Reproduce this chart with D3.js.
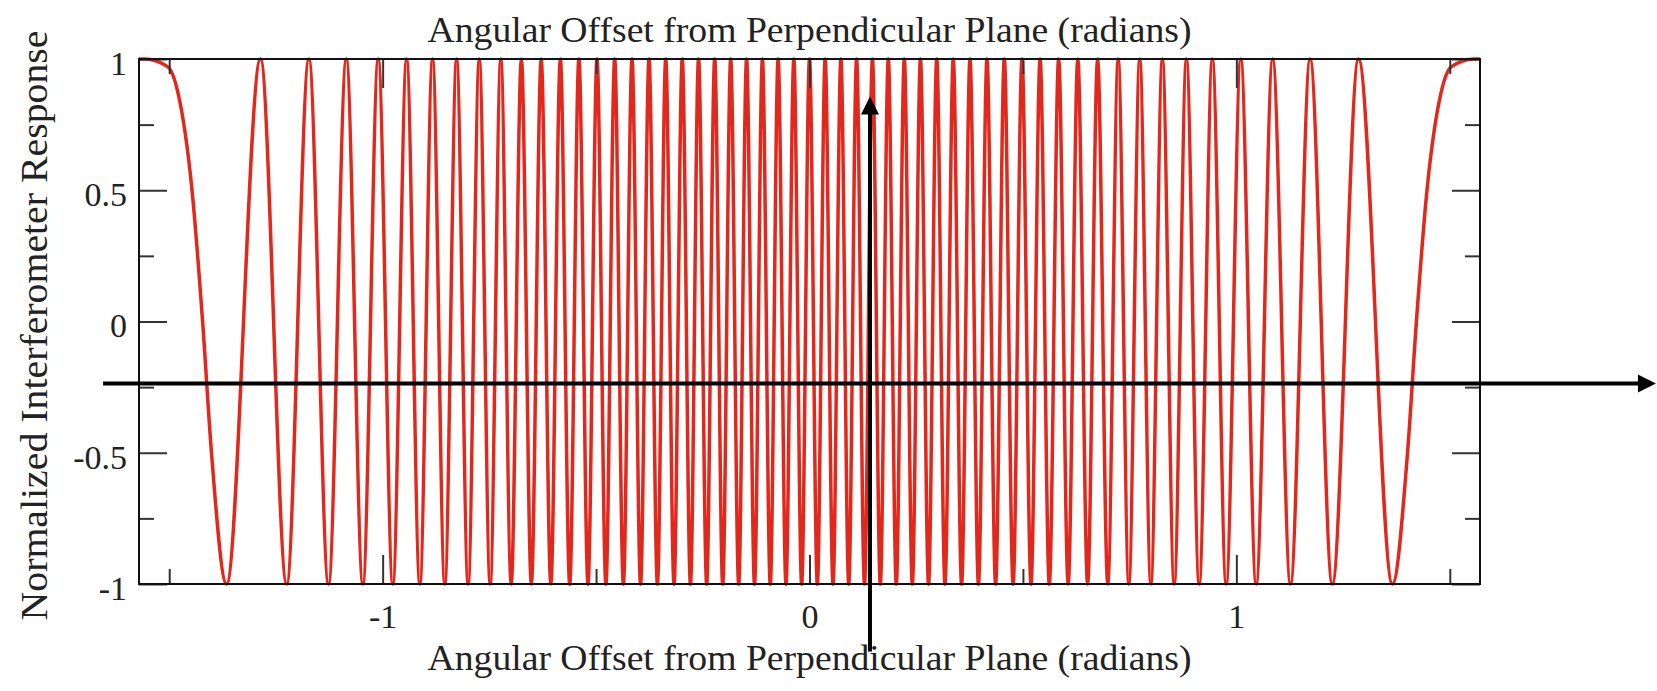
<!DOCTYPE html>
<html>
<head>
<meta charset="utf-8">
<script src="https://cdn.jsdelivr.net/npm/d3@7"></script>
<style>
  html, body { margin: 0; padding: 0; background: #fff; }
  svg { display: block; }
  text { font-family: "Liberation Serif", "Times New Roman", serif; fill: #222; }
</style>
</head>
<body>
<svg id="chart" width="1657" height="691"></svg>
<script>
// angles (radians) where the response touches +1
const peakX = [
  -1.5567, -1.2861, -1.1728, -1.0851, -1.0103, -0.9438, -0.8831, -0.8267, -0.7736, -0.7232,
  -0.6750, -0.6286, -0.5837, -0.5402, -0.4978, -0.4564, -0.4158, -0.3760, -0.3368, -0.2981,
  -0.2599, -0.2221, -0.1846, -0.1474, -0.1103, -0.0735, -0.0367, 0,
  0.0367, 0.0735, 0.1103, 0.1474, 0.1846, 0.2221, 0.2599, 0.2981, 0.3368, 0.3760,
  0.4158, 0.4564, 0.4978, 0.5402, 0.5837, 0.6286, 0.6750, 0.7232, 0.7736, 0.8267,
  0.8831, 0.9438, 1.0103, 1.0851, 1.1728, 1.2861, 1.5567
];
// angles (radians) where the response touches -1
const troughX = [
  -1.3657, -1.2248, -1.1268, -1.0464, -0.9762, -0.9129, -0.8544, -0.7997, -0.7481, -0.6988,
  -0.6516, -0.6060, -0.5618, -0.5189, -0.4770, -0.4360, -0.3958, -0.3563, -0.3174, -0.2789,
  -0.2409, -0.2033, -0.1659, -0.1288, -0.0919, -0.0551, -0.0184,
  0.0184, 0.0551, 0.0919, 0.1288, 0.1659, 0.2033, 0.2409, 0.2789, 0.3174, 0.3563,
  0.3958, 0.4360, 0.4770, 0.5189, 0.5618, 0.6060, 0.6516, 0.6988, 0.7481, 0.7997,
  0.8544, 0.9129, 0.9762, 1.0464, 1.1268, 1.2248, 1.3657
];
// extra points read along the wide outer lobes
const shoulderX = [-1.5708, -1.5033, -1.4788, -1.4466, -1.4218, -1.4010,
                   1.4010, 1.4218, 1.4466, 1.4788, 1.5033, 1.5708];
const shoulderY = [1, 0.97, 0.866, 0.5, 0, -0.5,
                   -0.5, 0, 0.5, 0.866, 0.97, 1];

const xMajor = [-1, 0, 1];
const xMinor = [-1.5, -0.5, 0.5, 1.5];
const yMajor = [-1, -0.5, 0, 0.5, 1];
const yMinor = [-0.75, -0.25, 0.25, 0.75];
const xTitle = "Angular Offset from Perpendicular Plane (radians)";
const yTitle = "Normalized Interferometer Response";

// annotation arrows, in data units
const hArrow = { y: -0.236, x0: -1.655, x1: 1.983 };
const vArrow = { x: 0.1417, y0: -1.257, y1: 0.857 };

const plotLeft = 139, plotRight = 1480, plotTop = 59, plotBottom = 584;
const lineColor = "#e2281c";

const svg = d3.select("#chart");
svg.append("rect").attr("width", 1657).attr("height", 691).attr("fill", "#fff");

const x = d3.scaleLinear().domain([-Math.PI / 2, Math.PI / 2]).range([plotLeft, plotRight]);
const y = d3.scaleLinear().domain([-1, 1]).range([plotBottom, plotTop]);

svg.append("defs").append("clipPath").attr("id", "plot")
  .append("rect")
  .attr("x", plotLeft).attr("y", plotTop - 2)
  .attr("width", plotRight - plotLeft).attr("height", plotBottom - plotTop + 4);

// response curve
const pts = peakX.map(v => [v, 1])
  .concat(troughX.map(v => [v, -1]))
  .concat(shoulderX.map((v, i) => [v, shoulderY[i]]))
  .sort((a, b) => a[0] - b[0]);

const line = d3.line()
  .x(d => x(d[0]))
  .y(d => y(d[1]))
  .curve(d3.curveMonotoneX);

svg.append("path")
  .datum(pts)
  .attr("clip-path", "url(#plot)")
  .attr("fill", "none")
  .attr("stroke", lineColor)
  .attr("stroke-width", 3.5)
  .attr("stroke-linejoin", "round")
  .attr("d", line);

// plain hyphen for negatives, as in the original
const label = d => String(d);

// axes with inward ticks on all four sides
function styleAxis(g) {
  g.select(".domain").remove();
  g.selectAll(".tick line").attr("stroke", "#333").attr("stroke-width", 2);
  g.selectAll("text").attr("font-size", 34).attr("fill", "#222")
    .attr("font-family", '"Liberation Serif", "Times New Roman", serif');
}

svg.append("g").attr("transform", `translate(${plotLeft},0)`)
  .call(d3.axisLeft(y).tickValues(yMajor).tickSize(-28).tickPadding(12).tickFormat(label))
  .call(styleAxis)
  .selectAll("text").attr("dy", "0.45em");
svg.append("g").attr("transform", `translate(${plotLeft},0)`)
  .call(d3.axisLeft(y).tickValues(yMinor).tickSize(-15).tickFormat(""))
  .call(styleAxis);
svg.append("g").attr("transform", `translate(${plotRight},0)`)
  .call(d3.axisRight(y).tickValues(yMajor).tickSize(-28).tickFormat(""))
  .call(styleAxis);
svg.append("g").attr("transform", `translate(${plotRight},0)`)
  .call(d3.axisRight(y).tickValues(yMinor).tickSize(-15).tickFormat(""))
  .call(styleAxis);

svg.append("g").attr("transform", `translate(0,${plotBottom})`)
  .call(d3.axisBottom(x).tickValues(xMajor).tickSize(-29).tickPadding(20).tickFormat(label))
  .call(styleAxis);
svg.append("g").attr("transform", `translate(0,${plotBottom})`)
  .call(d3.axisBottom(x).tickValues(xMinor).tickSize(-15).tickFormat(""))
  .call(styleAxis);
svg.append("g").attr("transform", `translate(0,${plotTop})`)
  .call(d3.axisTop(x).tickValues(xMajor).tickSize(-29).tickFormat(""))
  .call(styleAxis);
svg.append("g").attr("transform", `translate(0,${plotTop})`)
  .call(d3.axisTop(x).tickValues(xMinor).tickSize(-15).tickFormat(""))
  .call(styleAxis);

// frame
svg.append("rect")
  .attr("x", plotLeft).attr("y", plotTop)
  .attr("width", plotRight - plotLeft).attr("height", plotBottom - plotTop)
  .attr("fill", "none").attr("stroke", "#111").attr("stroke-width", 2);

// titles
const midX = (plotLeft + plotRight) / 2;
svg.append("text").attr("x", midX).attr("y", 42)
  .attr("text-anchor", "middle").attr("font-size", 36)
  .attr("textLength", 764).attr("lengthAdjust", "spacingAndGlyphs")
  .text(xTitle);
svg.append("text").attr("x", midX).attr("y", 670)
  .attr("text-anchor", "middle").attr("font-size", 36)
  .attr("textLength", 764).attr("lengthAdjust", "spacingAndGlyphs")
  .text(xTitle);
svg.append("text")
  .attr("transform", `translate(47,${(plotTop + plotBottom) / 2 + 4}) rotate(-90)`)
  .attr("text-anchor", "middle").attr("font-size", 38)
  .attr("textLength", 590).attr("lengthAdjust", "spacingAndGlyphs")
  .text(yTitle);

// annotation arrows
const head = 18, half = 9;
const ay = y(hArrow.y), ax0 = x(hArrow.x0), ax1 = x(hArrow.x1);
svg.append("line")
  .attr("x1", ax0).attr("y1", ay).attr("x2", ax1 - head + 1).attr("y2", ay)
  .attr("stroke", "#000").attr("stroke-width", 4);
svg.append("path")
  .attr("d", `M${ax1},${ay}L${ax1 - head},${ay - half}L${ax1 - head},${ay + half}Z`)
  .attr("fill", "#000");

const vx = x(vArrow.x), vy0 = y(vArrow.y0), vy1 = y(vArrow.y1);
svg.append("line")
  .attr("x1", vx).attr("y1", vy0).attr("x2", vx).attr("y2", vy1 + head - 1)
  .attr("stroke", "#000").attr("stroke-width", 4);
svg.append("path")
  .attr("d", `M${vx},${vy1}L${vx - half},${vy1 + head}L${vx + half},${vy1 + head}Z`)
  .attr("fill", "#000");
</script>
</body>
</html>
